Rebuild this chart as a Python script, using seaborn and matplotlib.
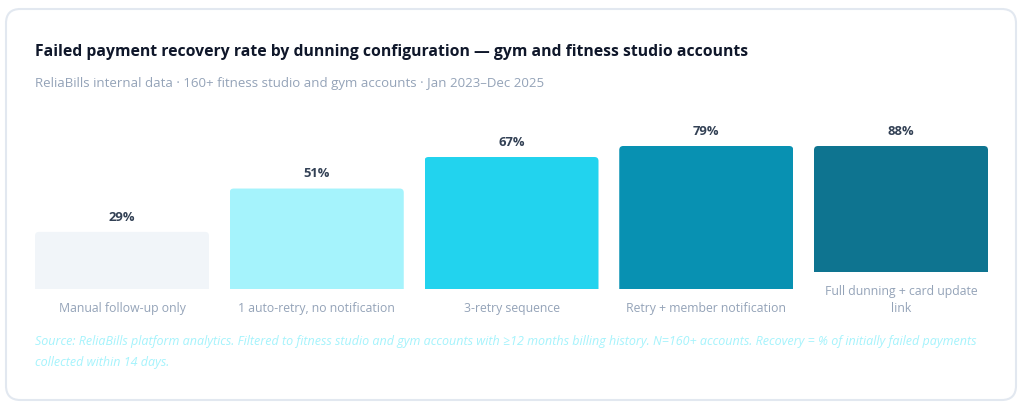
import matplotlib
matplotlib.use("Agg")
import matplotlib.pyplot as plt
from matplotlib.patches import FancyBboxPatch
import pandas as pd
import seaborn as sns

# chart data
configs = ["Manual follow-up only", "1 auto-retry, no notification", "3-retry sequence",
           "Retry + member notification", "Full dunning + card update\nlink"]
recovery = [29, 51, 67, 79, 88]
bar_colors = ["#f1f5f9", "#a5f3fc", "#22d3ee", "#0891b2", "#0e7490"]

title = "Failed payment recovery rate by dunning configuration \u2014 gym and fitness studio accounts"
subtitle = "ReliaBills internal data \u00b7 160+ fitness studio and gym accounts \u00b7 Jan 2023\u2013Dec 2025"
source = ("Source: ReliaBills platform analytics. Filtered to fitness studio and gym accounts with \u226512 months "
          "billing history. N=160+ accounts. Recovery = % of initially failed payments\ncollected within 14 days.")

sns.set_theme(style="white")
plt.rcParams['font.family'] = ['Open Sans', 'DejaVu Sans']

W, H = 1024, 411
fig = plt.figure(figsize=(W / 100, H / 100), dpi=100)
fig.patch.set_facecolor("white")

# card background
card = FancyBboxPatch((6 / W, 11 / H), 1010 / W, 391 / H,
                      boxstyle="round,pad=0,rounding_size=0.014",
                      transform=fig.transFigure, facecolor="white",
                      edgecolor="#e2e8f0", linewidth=1.5, mutation_aspect=W / H, zorder=-1)
fig.patches.append(card)

fig.text(35 / W, 1 - 51.5 / H, title, fontsize=11.3, fontweight="bold", color="#0f172a", va="center")
fig.text(35 / W, 1 - 83.5 / H, subtitle, fontsize=9.57, color="#94a3b8", va="center")

df = pd.DataFrame({"config": configs, "recovery": recovery, "color": bar_colors})

px_per_pct = 1.97
top_px = 146
pitch = 194.75
bar_px = 174
radius_px = 4
for i, row in df.iterrows():
    base_px = 272 if "\n" in row["config"] else 289
    h_px = base_px - top_px
    ax = fig.add_axes([(35 + i * pitch) / W, (H - base_px) / H, bar_px / W, h_px / H])
    sns.barplot(data=df.iloc[[i]], x="config", y="recovery", ax=ax,
                color=row["color"], width=1.0, saturation=1)
    ymax = h_px / px_per_pct
    ax.set_ylim(0, ymax)
    ax.set_xlim(-0.5, 0.5)
    ax.set_axis_off()

    # rounded top corners, bar capped at the column height like the original
    for p in list(ax.patches):
        x0, w, hgt = p.get_x(), p.get_width(), min(p.get_height(), ymax)
        fc = p.get_facecolor()
        p.remove()
        r_y = radius_px / px_per_pct
        ax.add_patch(FancyBboxPatch((x0, -r_y), w, hgt + r_y,
                                    boxstyle=f"round,pad=0,rounding_size={radius_px / bar_px}",
                                    mutation_aspect=bar_px / px_per_pct,
                                    facecolor=fc, edgecolor="none"))

    ax.annotate(f"{row['recovery']}%", (0, min(row["recovery"], ymax)),
                xytext=(0, 10.5), textcoords="offset points", ha="center", va="center",
                fontsize=9.4, fontweight="bold", color="#334155", annotation_clip=False)
    ax.annotate(row["config"], (0.5, 0), xycoords="axes fraction",
                xytext=(0, -9.5), textcoords="offset points", ha="center", va="top",
                fontsize=8.8, color="#94a3b8", linespacing=1.35, annotation_clip=False)

fig.text(35 / W, 1 - 335 / H, source, fontsize=9.0, style="italic", color="#a5f3fc",
         va="top", linespacing=1.75)

fig.savefig("out.png", dpi=100, facecolor="white")
